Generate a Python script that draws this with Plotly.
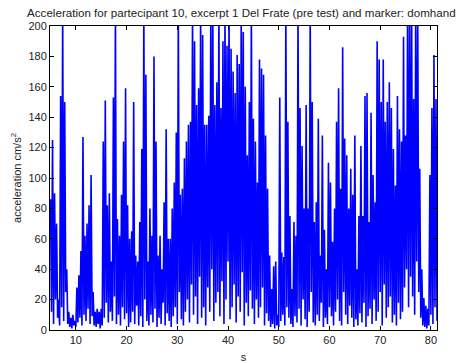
import numpy as np
import plotly.graph_objects as go

# Acceleration envelope: local maxima and minima, one pair per 0.4 s window
t_start = 5.0
step = 0.4

peaks = [
    86, 125, 90, 70, 20, 154, 210, 150, 40, 12,
    8, 10, 6, 28, 36, 52, 127, 62, 70, 82,
    102, 25, 12, 14, 12, 14, 124, 151, 82, 90,
    45, 153, 210, 73, 62, 89, 124, 159, 82, 60,
    65, 150, 49, 45, 71, 119, 210, 168, 45, 80,
    62, 180, 124, 49, 62, 40, 84, 132, 60, 60,
    80, 97, 130, 210, 89, 93, 113, 124, 135, 137,
    210, 190, 148, 159, 210, 194, 135, 135, 141, 210,
    210, 148, 163, 210, 146, 190, 210, 187, 210, 185,
    170, 156, 181, 175, 210, 196, 160, 115, 150, 210,
    139, 124, 97, 178, 172, 168, 128, 93, 49, 27,
    42, 45, 10, 153, 51, 48, 210, 137, 75, 27,
    71, 62, 210, 146, 121, 80, 148, 80, 210, 150,
    71, 84, 139, 49, 128, 66, 40, 110, 97, 58,
    80, 137, 159, 93, 186, 126, 115, 80, 106, 89,
    128, 40, 75, 121, 75, 154, 156, 71, 143, 102,
    84, 190, 178, 150, 178, 137, 150, 163, 146, 119,
    95, 154, 132, 124, 193, 128, 210, 210, 210, 152,
    210, 210, 106, 40, 21, 16, 14, 102, 146, 181,
    152,
]

troughs = [
    12, 4, 20, 8, 3, 15, 6, 25, 4, 2,
    1, 3, 2, 5, 8, 3, 10, 6, 14, 4,
    9, 3, 2, 4, 1, 3, 8, 18, 5, 12,
    6, 22, 4, 10, 3, 15, 7, 11, 2, 5,
    12, 4, 16, 3, 9, 2, 20, 6, 3, 10,
    5, 14, 2, 8, 4, 18, 3, 11, 6, 2,
    9, 15, 4, 25, 7, 3, 12, 20, 5, 30,
    10, 22, 4, 35, 8, 15, 3, 28, 12, 40,
    6, 18, 25, 9, 32, 4, 20, 45, 7, 15,
    30, 5, 22, 12, 38, 3, 18, 9, 26, 14,
    4, 20, 8, 15, 28, 3, 11, 6, 2, 4,
    1, 3, 2, 6, 10, 3, 15, 8, 4, 2,
    9, 5, 14, 3, 20, 7, 2, 12, 25, 5,
    3, 10, 6, 18, 2, 8, 4, 15, 9, 3,
    12, 20, 6, 3, 25, 10, 4, 16, 8, 2,
    7, 3, 11, 5, 18, 2, 9, 14, 4, 20,
    6, 12, 25, 3, 30, 8, 15, 22, 5, 10,
    3, 18, 7, 12, 28, 40, 15, 35, 22, 10,
    45, 25, 8, 3, 2, 1, 3, 10, 4, 15,
    6,
]

x_ticks = [10, 20, 30, 40, 50, 60, 70, 80]
y_ticks = [0, 20, 40, 60, 80, 100, 120, 140, 160, 180, 200]

# interleave maxima and minima into a single time series
n = len(peaks)
t_peak = t_start + step * np.arange(n)
t_trough = t_peak + step / 2
t = np.empty(2 * n)
a = np.empty(2 * n)
t[0::2], t[1::2] = t_peak, t_trough
a[0::2], a[1::2] = peaks, troughs

fig = go.Figure(go.Scatter(
    x=t, y=a, mode="lines",
    line=dict(color="#0000ff", width=1.6),
    hoverinfo="skip", showlegend=False,
))

font = dict(family="Liberation Sans, Arial, sans-serif", size=11, color="#222")

axis_common = dict(
    showline=True, linecolor="black", linewidth=1, mirror="ticks",
    ticks="inside", ticklen=4, tickcolor="black", tickwidth=1,
    showgrid=False, zeroline=False, tickfont=font, automargin=False,
)

fig.update_layout(
    width=458, height=363,
    margin=dict(l=50, r=21, t=26, b=33),
    paper_bgcolor="white", plot_bgcolor="white",
    title=dict(
        text="Acceleration for partecipant 10, excerpt 1 Del Frate (pre test) and marker: domhand",
        x=0.527, xanchor="center", y=0.965, yanchor="middle",
        font=dict(family="Liberation Sans, Arial, sans-serif", size=11.6, color="#222"),
    ),
    xaxis=dict(
        range=[4.9, 81.2], tickvals=x_ticks,
        title=dict(text="s", font=font),
        **axis_common,
    ),
    yaxis=dict(range=[0, 200], tickvals=y_ticks, **axis_common),
    annotations=[dict(
        text="acceleration cm/s<sup>2</sup>", textangle=-90,
        xref="paper", yref="paper", x=-0.088, y=0.5,
        xanchor="center", yanchor="middle", showarrow=False, font=font,
    )],
)

fig.write_html("out.html")
